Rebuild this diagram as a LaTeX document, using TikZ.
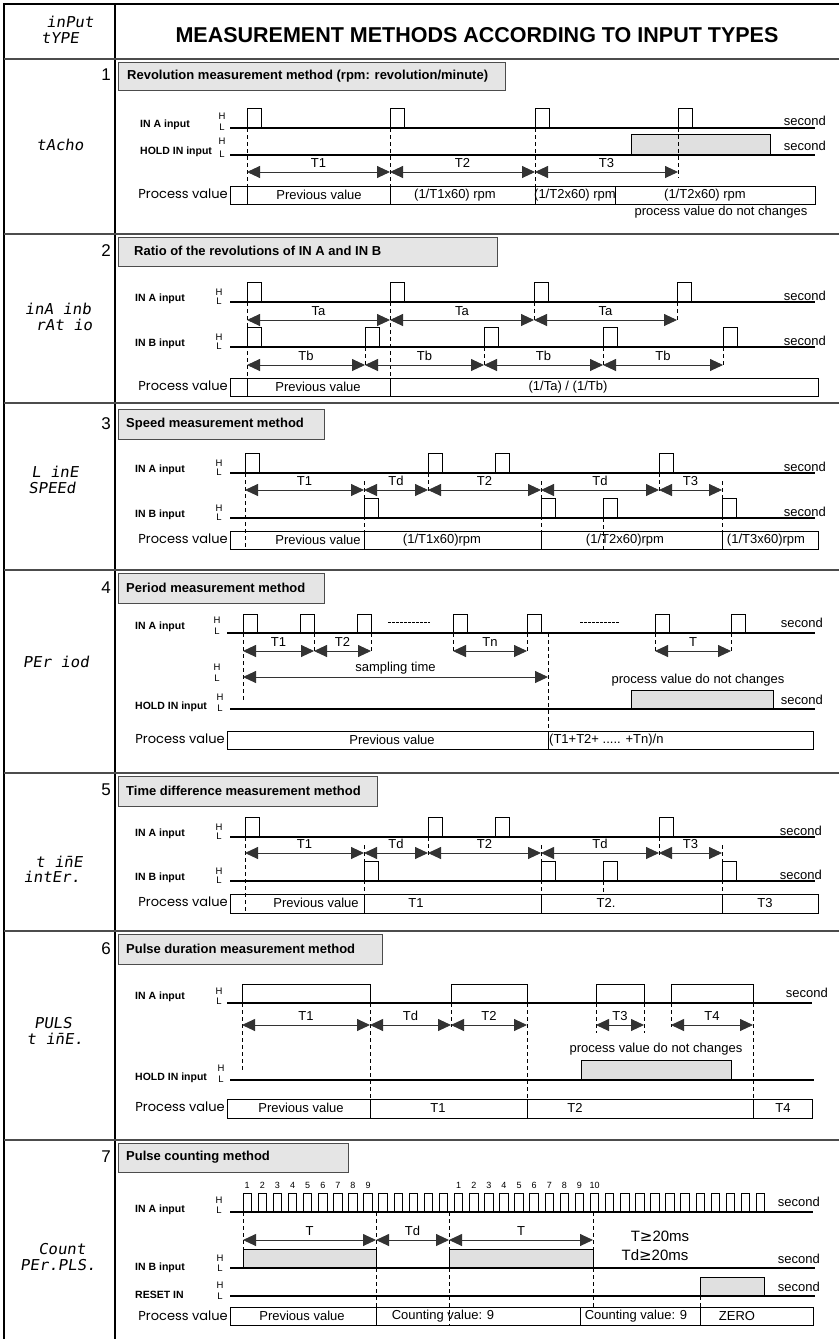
\documentclass[tikz,border=0pt]{standalone}
\usepackage{fontspec}
\setmainfont{Liberation Sans}
\newfontfamily\segf[FakeSlant=0.15,FakeStretch=1.05]{DejaVu Sans Mono}
\newfontfamily\pvf{Poppins}
\newfontfamily\dvs{DejaVu Sans}
\usetikzlibrary{arrows.meta}
\definecolor{boxgray}{gray}{0.88}
\definecolor{titlegray}{gray}{0.9}
\definecolor{rulegray}{gray}{0.3}
\newcommand\pul[4]{\draw[pl] (#1,#2) -- (#1,{#2-#4}) -- ({#1+#3},{#2-#4}) -- ({#1+#3},#2);}
\newcommand\dimarr[4]{\draw[dim] (#1,#3) -- (#2,#3); \node[tl] at ({(#1+#2)/2},{#3-9}) {#4};}
\tikzset{
  frm/.style={line width=1.2pt},
  sepl/.style={line width=1.4pt,draw=rulegray},
  sig/.style={line width=2.2pt},
  pl/.style={line width=0.9pt},
  dim/.style={line width=0.9pt,draw=black!80,{Triangle[length=13pt,width=12pt]}-{Triangle[length=13pt,width=12pt]}},
  vd/.style={line width=0.7pt,dash pattern=on 4pt off 3pt},
  dots/.style={line width=0.9pt,dash pattern=on 2.5pt off 1.5pt},
  gbox/.style={fill=boxgray,draw=black,line width=0.9pt},
  tbox/.style={fill=titlegray,draw=rulegray,line width=0.9pt},
  pvbox/.style={draw=black,line width=0.8pt},
  ttl/.style={font=\bfseries\fontsize{13}{15}\selectfont,anchor=west,inner sep=0pt},
  head/.style={font=\bfseries\fontsize{21.5}{24}\selectfont,inner sep=0pt},
  num/.style={font=\fontsize{17}{19}\selectfont,anchor=east,inner sep=0pt},
  seg/.style={font=\segf\fontsize{15}{16}\selectfont,inner sep=0pt},
  inl/.style={font=\bfseries\fontsize{10.5}{12}\selectfont,anchor=west,inner sep=0pt},
  hl/.style={font=\fontsize{9.5}{10}\selectfont,inner sep=0pt},
  sec/.style={font=\fontsize{13}{15}\selectfont,anchor=east,inner sep=0pt},
  tl/.style={font=\fontsize{13}{15}\selectfont,inner sep=0pt},
  nn/.style={font=\fontsize{9}{10}\selectfont,inner sep=0pt},
  big/.style={font=\fontsize{15}{18}\selectfont,inner sep=0pt},
  pvl/.style={font=\pvf\fontsize{13}{15}\selectfont,anchor=east,inner sep=0pt},
  pvt/.style={font=\fontsize{13}{15}\selectfont,inner sep=0pt},
}
\begin{document}
\begin{tikzpicture}[x=1pt,y=-1pt]
\useasboundingbox (0,0) rectangle (839,1339);
\fill[white] (0,0) rectangle (839,1339);
% frame (open at right and bottom)
\draw[frm] (4,1339) -- (4,4) -- (839,4);
\draw[frm] (115,4) -- (115,1339);
\foreach \y in {59,234,403,570,773,931,1140} {\draw[sepl] (4,\y) -- (839,\y);}
% header
\node[seg] (hd1) at (70,22) {inPut};
\node[seg] (hd2) at (60,38) {tYPE};
\node[head] (title) at (477,35) {MEASUREMENT METHODS ACCORDING TO INPUT TYPES};
% left column labels
\node[seg] (s1) at (60,145) {tAcho};
\node[seg] (s2a) at (58,309) {inA inb};
\node[seg] (s2b) at (64,325) {rAt io};
\node[seg] (s3a) at (55,472) {L inE};
\node[seg] (s3b) at (52,488) {SPEEd};
\node[seg] (s4) at (56,662) {PEr iod};
\node[seg] (s5a) at (59,862) {t i\=nE};
\node[seg] (s5b) at (52,877) {intEr.};
\node[seg] (s6a) at (53,1023) {PULS};
\node[seg] (s6b) at (55,1039) {t i\=nE.};
\node[seg] (s7a) at (62,1249) {Count};
\node[seg] (s7b) at (58,1265) {PEr.PLS.};

% ================= Section 1
\node[num] (n1) at (111,75) {1};
\draw[tbox] (118,62) rectangle (505,90);
\node[ttl] (t1) at (127,76) {Revolution measurement method (rpm: revolution/minute)};
\node[inl] (a1) at (140,125) {IN A input};
\node[hl] (a1h) at (222,116) {H}; \node[hl] (a1l) at (222,127) {L};
\node[sec] (a1s) at (826,121) {second};
\node[inl] (h1) at (140,152) {HOLD IN input};
\node[hl] (h1h) at (222,141) {H}; \node[hl] (h1l) at (222,154) {L};
\node[sec] (h1s) at (826,146) {second};
\draw[gbox] (631,134) rectangle (770,155);
\draw[sig] (230,128) -- (815,128);
\draw[sig] (230,155) -- (815,155);
\foreach \x in {247,390,535,678} {\pul{\x}{128}{14}{20}}
\draw[vd] (247,128) -- (247,186);
\draw[vd] (390,128) -- (390,186);
\draw[vd] (535,128) -- (535,186);
\draw[vd] (678,128) -- (678,178);
\dimarr{247}{390}{172}{T1}
\dimarr{390}{535}{172}{T2}
\dimarr{535}{678}{172}{T3}
\node[pvl] (p1) at (228,194) {Process value};
\draw[pvbox] (230,186) rectangle (815,204);
\foreach \x in {247,390,535,615} {\draw[pvbox] (\x,186) -- (\x,204);}
\node[pvt] (p1a) at (319,195) {Previous value};
\node[pvt] (p1b) at (455,195) {(1/T1x60) rpm};
\node[pvt] (p1c) at (575,195) {(1/T2x60) rpm};
\node[pvt] (p1d) at (705,195) {(1/T2x60) rpm};
\node[pvt] (p1e) at (721,212) {process value do not changes};

% ================= Section 2
\node[num] (n2) at (111,251) {2};
\draw[tbox] (118,237) rectangle (497,266);
\node[ttl] (t2) at (134,251) {Ratio of the revolutions of IN A and IN B};
\node[inl] (a2) at (135,299) {IN A input};
\node[hl] at (219,292) {H}; \node[hl] at (219,301) {L};
\node[sec] at (826,296) {second};
\draw[sig] (230,302) -- (815,302);
\foreach \x in {247,390,534,677} {\pul{\x}{302}{14}{20}}
\node[inl] (b2) at (135,344) {IN B input};
\node[hl] at (219,337) {H}; \node[hl] at (219,346) {L};
\node[sec] at (826,341) {second};
\draw[sig] (230,347) -- (815,347);
\foreach \x in {247,365,484,603,723} {\pul{\x}{347}{14}{20}}
\draw[vd] (247,302) -- (247,378);
\draw[vd] (390,302) -- (390,378);
\foreach \x in {534,677} {\draw[vd] (\x,302) -- (\x,322);}
\foreach \x in {365,484,603,723} {\draw[vd] (\x,347) -- (\x,367);}
\dimarr{247}{390}{320}{Ta}
\dimarr{390}{534}{320}{Ta}
\dimarr{534}{677}{320}{Ta}
\dimarr{247}{365}{365}{Tb}
\dimarr{365}{484}{365}{Tb}
\dimarr{484}{603}{365}{Tb}
\dimarr{603}{723}{365}{Tb}
\node[pvl] (p2) at (228,386) {Process value};
\draw[pvbox] (230,378) rectangle (818,396);
\foreach \x in {247,390} {\draw[pvbox] (\x,378) -- (\x,396);}
\node[pvt] at (318,387) {Previous value};
\node[pvt] at (568,387) {(1/Ta) / (1/Tb)};

% ================= Section 3
\node[num] (n3) at (111,424) {3};
\draw[tbox] (118,409) rectangle (324,439);
\node[ttl] (t3) at (126,424) {Speed measurement method};
\node[inl] (a3) at (135,470) {IN A input};
\node[hl] at (219,463) {H}; \node[hl] at (219,472) {L};
\node[sec] at (826,467) {second};
\draw[sig] (230,473) -- (815,473);
\foreach \x in {245,428,495,659} {\pul{\x}{473}{14}{20}}
\node[inl] (b3) at (135,515) {IN B input};
\node[hl] at (219,508) {H}; \node[hl] at (219,517) {L};
\node[sec] at (826,512) {second};
\draw[sig] (230,518) -- (815,518);
\foreach \x in {364,541,603,722} {\pul{\x}{518}{14}{20}}
\draw[vd] (245,473) -- (245,549);
\foreach \x in {428,659} {\draw[vd] (\x,473) -- (\x,492);}
\foreach \x in {364,541,722} {\draw[vd] (\x,481) -- (\x,531);}
\draw[vd] (603,518) -- (603,549);
\dimarr{245}{364}{490}{T1}
\dimarr{364}{428}{490}{Td}
\dimarr{428}{541}{490}{T2}
\dimarr{541}{659}{490}{Td}
\dimarr{659}{722}{490}{T3}
\node[pvl] (p3) at (228,539) {Process value};
\draw[pvbox] (230,531) rectangle (818,549);
\foreach \x in {364,541,722} {\draw[pvbox] (\x,531) -- (\x,549);}
\node[pvt] at (318,540) {Previous value};
\node[pvt] at (442,540) {(1/T1x60)rpm};
\node[pvt] at (625,540) {(1/T2x60)rpm};
\node[pvt] at (766,540) {(1/T3x60)rpm};

% ================= Section 4
\node[num] (n4) at (111,588) {4};
\draw[tbox] (118,573) rectangle (324,603);
\node[ttl] (t4) at (126,588) {Period measurement method};
\node[inl] (a4) at (135,627) {IN A input};
\node[hl] at (217,620) {H}; \node[hl] at (217,631) {L};
\node[sec] at (823,623) {second};
\draw[sig] (227,633) -- (815,633);
\foreach \x in {243,300,357,453,527,655,731} {\pul{\x}{633}{14}{19}}
\draw[dots] (388,622) -- (430,622);
\draw[dots] (580,622) -- (620,622);
\draw[vd] (243,633) -- (243,700);
\foreach \x in {314,371,453,527,655,731} {\draw[vd] (\x,633) -- (\x,653);}
\draw[vd] (548,633) -- (548,731);
\dimarr{243}{314}{651}{T1}
\dimarr{314}{371}{651}{T2}
\dimarr{453}{527}{651}{Tn}
\dimarr{655}{731}{651}{T}
\node[hl] at (217,667) {H}; \node[hl] at (217,678) {L};
\dimarr{243}{548}{677}{sampling time}
\node[pvt] (p4n) at (698,680) {process value do not changes};
\node[inl] (h4) at (135,707) {HOLD IN input};
\node[hl] at (220,697) {H}; \node[hl] at (220,708) {L};
\node[sec] at (823,700) {second};
\draw[gbox] (631,690) rectangle (773,709);
\draw[sig] (230,709) -- (815,709);
\node[pvl] (p4) at (225,739) {Process value};
\draw[pvbox] (227,731) rectangle (813,749);
\draw[pvbox] (548,731) -- (548,749);
\node[pvt] at (392,740) {Previous value};
\node[pvt,anchor=west] at (549,740) {(T1+T2+ ..... +Tn)/n};

% ================= Section 5
\node[num] (n5) at (111,790) {5};
\draw[tbox] (118,776) rectangle (377,806);
\node[ttl] (t5) at (126,791) {Time difference measurement method};
\node[inl] (a5) at (135,834) {IN A input};
\node[hl] at (219,827) {H}; \node[hl] at (219,836) {L};
\node[sec] at (822,831) {second};
\draw[sig] (230,837) -- (815,837);
\foreach \x in {245,428,495,659} {\pul{\x}{837}{14}{20}}
\node[inl] (b5) at (135,878) {IN B input};
\node[hl] at (219,871) {H}; \node[hl] at (219,880) {L};
\node[sec] at (822,875) {second};
\draw[sig] (230,881) -- (815,881);
\foreach \x in {364,541,603,722} {\pul{\x}{881}{14}{20}}
\draw[vd] (245,837) -- (245,913);
\foreach \x in {428,659} {\draw[vd] (\x,837) -- (\x,855);}
\foreach \x in {364,541,722} {\draw[vd] (\x,845) -- (\x,894);}
\draw[vd] (603,881) -- (603,894);
\dimarr{245}{364}{853}{T1}
\dimarr{364}{428}{853}{Td}
\dimarr{428}{541}{853}{T2}
\dimarr{541}{659}{853}{Td}
\dimarr{659}{722}{853}{T3}
\node[pvl] (p5) at (228,902) {Process value};
\draw[pvbox] (230,894) rectangle (818,913);
\foreach \x in {364,541,722} {\draw[pvbox] (\x,894) -- (\x,913);}
\node[pvt] at (316,903) {Previous value};
\node[pvt] at (416,903) {T1};
\node[pvt] at (606,903) {T2.};
\node[pvt] at (765,903) {T3};

% ================= Section 6
\node[num] (n6) at (111,949) {6};
\draw[tbox] (118,934) rectangle (382,964);
\node[ttl] (t6) at (126,949) {Pulse duration measurement method};
\node[inl] (a6) at (135,997) {IN A input};
\node[hl] at (219,991) {H}; \node[hl] at (219,1001) {L};
\node[sec] at (828,993) {second};
\draw[sig] (227,1003) -- (812,1003);
\pul{242}{1003}{128}{19}
\pul{451}{1003}{76}{19}
\pul{596}{1003}{48}{19}
\pul{671}{1003}{82}{19}
\draw[vd] (242,1003) -- (242,1072);
\foreach \x in {370,527,753} {\draw[vd] (\x,1003) -- (\x,1099);}
\foreach \x in {451,671} {\draw[vd] (\x,1003) -- (\x,1027);}
\foreach \x in {596,644} {\draw[vd] (\x,1003) -- (\x,1033);}
\dimarr{242}{370}{1025}{T1}
\dimarr{370}{451}{1025}{Td}
\dimarr{451}{527}{1025}{T2}
\dimarr{596}{644}{1025}{T3}
\dimarr{671}{753}{1025}{T4}
\node[pvt] (p6n) at (656,1049) {process value do not changes};
\node[inl] (h6) at (135,1078) {HOLD IN input};
\node[hl] at (221,1068) {H}; \node[hl] at (221,1079) {L};
\draw[gbox] (581,1060) rectangle (731,1080);
\draw[sig] (230,1080) -- (814,1080);
\node[pvl] (p6) at (225,1107) {Process value};
\draw[pvbox] (227,1099) rectangle (812,1118);
\foreach \x in {370,527,753} {\draw[pvbox] (\x,1099) -- (\x,1118);}
\node[pvt] at (301,1108) {Previous value};
\node[pvt] at (438,1108) {T1};
\node[pvt] at (575,1108) {T2};
\node[pvt] at (783,1108) {T4};

% ================= Section 7
\node[num] (n7) at (111,1157) {7};
\draw[tbox] (118,1143) rectangle (348,1172);
\node[ttl] (t7) at (126,1157) {Pulse counting method};
\foreach \i in {1,...,9} {\node[nn] at ({243+15.1*(\i-1)+4.25},1185) {\i};}
\foreach \i in {1,...,10} {\node[nn] at ({243+15.1*(\i+13)+4.25},1185) {\i};}
\node[inl] (a7) at (135,1210) {IN A input};
\node[hl] at (219,1200) {H}; \node[hl] at (219,1210) {L};
\node[sec] at (820,1202) {second};
\draw[sig] (230,1212) -- (813,1212);
\foreach \i in {0,...,34} {\pul{243+15.1*\i}{1212}{8.5}{19}}
\draw[vd] (243,1212) -- (243,1249);
\draw[vd] (376,1212) -- (376,1307);
\draw[vd] (449,1212) -- (449,1325);
\draw[vd] (593,1212) -- (593,1307);
\draw[vd] (700,1296) -- (700,1307);
\dimarr{243}{376}{1240}{T}
\dimarr{376}{449}{1240}{Td}
\dimarr{449}{593}{1240}{T}
\node[big] (c1) at (660,1236) {T{\dvs ≥}20ms};
\node[big] (c2) at (655,1255) {Td{\dvs ≥}20ms};
\node[inl] (b7) at (135,1268) {IN B input};
\node[hl] at (220,1258) {H}; \node[hl] at (220,1268) {L};
\node[sec] at (820,1259) {second};
\draw[gbox] (243,1249) rectangle (376,1268);
\draw[gbox] (449,1249) rectangle (593,1268);
\draw[sig] (230,1268) -- (815,1268);
\node[inl] (r7) at (135,1295) {RESET IN};
\node[hl] at (220,1285) {H}; \node[hl] at (220,1296) {L};
\node[sec] at (820,1287) {second};
\draw[gbox] (700,1277) rectangle (764,1296);
\draw[sig] (230,1296) -- (815,1296);
\node[pvl] (p7) at (228,1316) {Process value};
\draw[pvbox] (230,1307) rectangle (813,1325);
\foreach \x in {376,580,700} {\draw[pvbox] (\x,1307) -- (\x,1325);}
\node[pvt] at (302,1316) {Previous value};
\node[pvt] at (443,1316) {Counting value: 9};
\node[pvt] at (636,1316) {Counting value: 9};
\node[pvt] at (737,1316) {ZERO};
\end{tikzpicture}
\end{document}
